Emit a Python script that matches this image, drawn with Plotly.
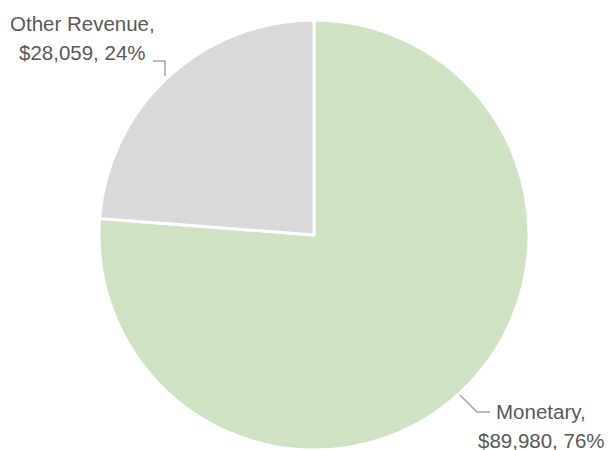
import plotly.graph_objects as go

categories = ["Other Revenue", "Monetary"]
values = [28059, 89980]
colors = ["#D9D9D9", "#CFE2C3"]

W, H = 609, 450
total = sum(values)
pcts = [round(v / total * 100) for v in values]

fig = go.Figure(go.Pie(
    labels=categories[::-1],
    values=values[::-1],
    sort=False,
    direction="clockwise",
    rotation=0,
    marker=dict(colors=colors[::-1], line=dict(color="white", width=3)),
    textinfo="none",
    hoverinfo="label+value+percent",
    showlegend=False,
    domain=dict(x=[98 / W, 530 / W], y=[0, 430 / H]),
))

font = dict(family="Liberation Sans, Arial, sans-serif", size=20.5, color="#595959")

def px_y(y):
    return 1 - y / H

label_pos = [
    # (center x, line1 center y, line2 center y)
    (82, 23, 53),
    (541, 411, 440),
]
anns = []
for i, (cx, y1, y2) in enumerate(label_pos):
    anns.append(dict(x=cx / W, y=px_y(y1), xref="paper", yref="paper",
                     text=f"{categories[i]},", showarrow=False, font=font,
                     xanchor="center", yanchor="middle"))
    anns.append(dict(x=cx / W, y=px_y(y2), xref="paper", yref="paper",
                     text=f"${values[i]:,}, {pcts[i]}%", showarrow=False, font=font,
                     xanchor="center", yanchor="middle"))

leader = dict(color="#A6A6A6", width=1.5)
shapes = [
    dict(type="path", xref="paper", yref="paper",
         path=f"M {153/W},{px_y(61)} L {165/W},{px_y(61)} L {165/W},{px_y(76)}",
         line=leader),
    dict(type="path", xref="paper", yref="paper",
         path=f"M {460/W},{px_y(395)} L {477/W},{px_y(412)} L {490/W},{px_y(412)}",
         line=leader),
]

fig.update_layout(
    width=W, height=H,
    margin=dict(l=0, r=0, t=0, b=0),
    paper_bgcolor="white",
    plot_bgcolor="white",
    annotations=anns,
    shapes=shapes,
)

fig.write_html("out.html", config={"displayModeBar": False},
               post_script="document.body.style.margin='0';document.body.style.overflow='hidden';")
